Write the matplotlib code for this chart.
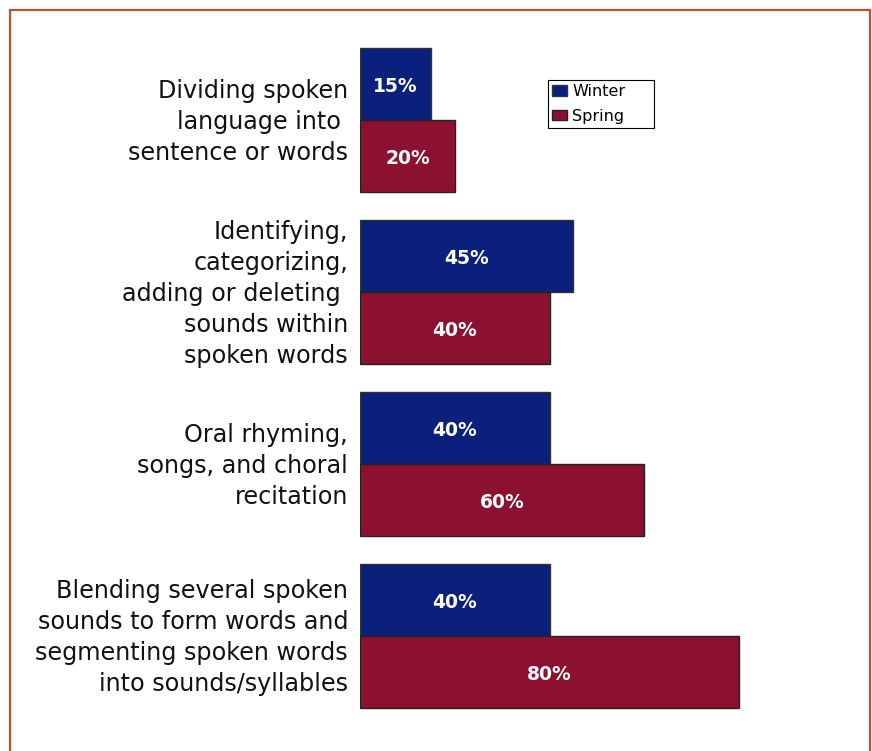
import matplotlib.pyplot as plt
from matplotlib.patches import Rectangle

# data
categories = [
    "Dividing spoken\nlanguage into \nsentence or words",
    "Identifying,\ncategorizing,\nadding or deleting \nsounds within\nspoken words",
    "Oral rhyming,\nsongs, and choral\nrecitation",
    "Blending several spoken\nsounds to form words and\nsegmenting spoken words\ninto sounds/syllables",
]
winter = [15, 45, 40, 40]
spring = [20, 40, 60, 80]
series_names = ["Winter", "Spring"]
colors = ["#0b1f7c", "#8c1030"]

W, H = 872, 751
fig = plt.figure(figsize=(W / 100, H / 100), dpi=100)

# border round the whole chart (bottom edge is off the picture)
fig.patches.append(Rectangle((10 / W, -0.05), 860 / W, 1.05 - 10 / H,
                             transform=fig.transFigure, fill=False,
                             edgecolor="#b9512f", linewidth=1.6))

ax = fig.add_axes([360 / W, 0, 474 / W, (H - 10) / H])
ax.set_xlim(0, 100)
ax.set_ylim(3 + (751 - 636) / 172, -(120 - 10) / 172)
ax.axis("off")

ypos = list(range(len(categories)))
h = 0.415
off = 0.21
bw = ax.barh([y - off for y in ypos], winter, height=h, color=colors[0],
             edgecolor="#333333", linewidth=1, label=series_names[0])
bs = ax.barh([y + off for y in ypos], spring, height=h, color=colors[1],
             edgecolor="#222222", linewidth=1, label=series_names[1])

for bars, vals in ((bw, winter), (bs, spring)):
    for b, v in zip(bars, vals):
        ax.text(b.get_x() + b.get_width() / 2, b.get_y() + b.get_height() / 2 + 0.015,
                f"{v}%", ha="center", va="center", color="white",
                fontsize=13.5, fontweight="bold")

for y, lab in zip(ypos, categories):
    ax.text(-12 / 4.74, y + 0.01, lab, ha="right", va="center", fontsize=17.2,
            color="#111111", linespacing=1.37)

# legend: entries without frame, box drawn to the size in the picture
leg = ax.legend(loc="upper left", bbox_to_anchor=(549 / W, 1 - 81 / H),
                bbox_transform=fig.transFigure, frameon=False,
                fontsize=11.5, handlelength=0.95, handleheight=0.65,
                handletextpad=0.3, borderpad=0.2, labelspacing=0.6,
                borderaxespad=0)
fig.patches.append(Rectangle((548 / W, 1 - 128 / H), 106 / W, 48 / H,
                             transform=fig.transFigure, fill=False,
                             edgecolor="black", linewidth=0.8))

fig.savefig("out.png", dpi=100)
